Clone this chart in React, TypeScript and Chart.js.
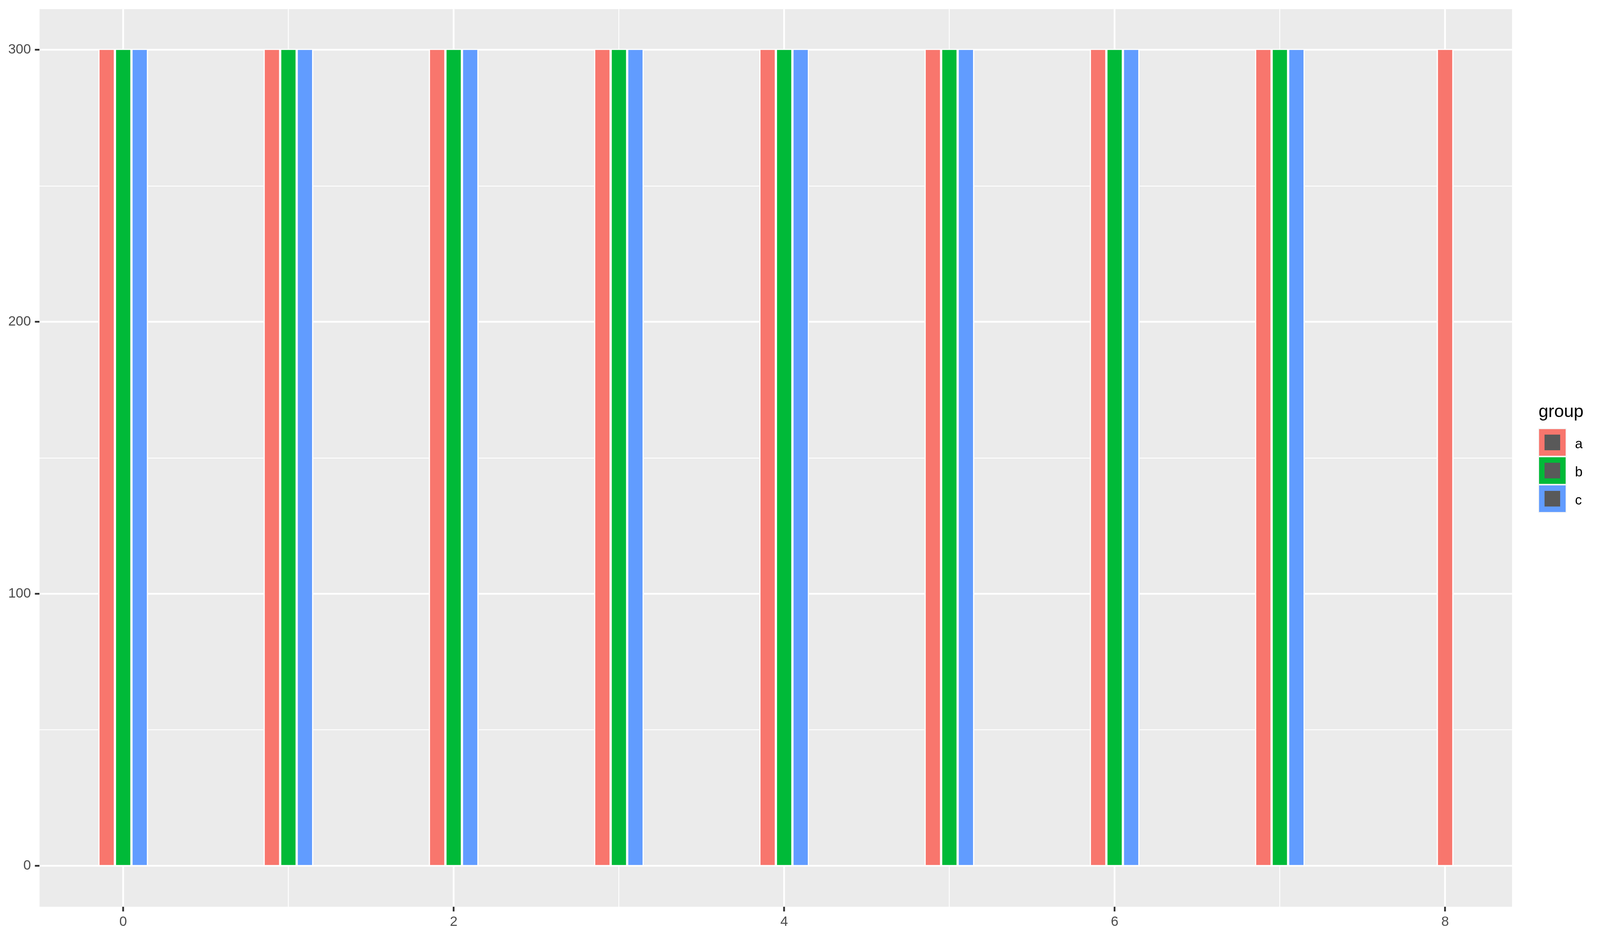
import { useEffect, useRef } from "react";
import { Chart, BarController, BarElement, LinearScale } from "chart.js";

Chart.register(BarController, BarElement, LinearScale);

// data
const groups = ["a", "b", "c"];
const groupColors = ["#F8766D", "#00BA38", "#619CFF"];
const xA = [0, 1, 2, 3, 4, 5, 6, 7, 8];
const valuesA = [300, 300, 300, 300, 300, 300, 300, 300, 300];
const xB = [0, 1, 2, 3, 4, 5, 6, 7];
const valuesB = [300, 300, 300, 300, 300, 300, 300, 300];
const xC = [0, 1, 2, 3, 4, 5, 6, 7];
const valuesC = [300, 300, 300, 300, 300, 300, 300, 300];

const xMajorTicks = [0, 2, 4, 6, 8];
const xMinorTicks = [1, 3, 5, 7];
const yMajorTicks = [0, 100, 200, 300];
const yMinorTicks = [50, 150, 250];

const FONT = "'Liberation Sans', Arial, Helvetica, sans-serif";
const W = 4165;
const H = 2400;

const panelBackground = {
  id: "panelBackground",
  beforeDraw(chart: Chart) {
    const { ctx, chartArea: a } = chart;
    ctx.save();
    ctx.fillStyle = "#EBEBEB";
    ctx.fillRect(a.left, a.top, a.right - a.left, a.bottom - a.top);
    ctx.restore();
  },
};

const toPoints = (xs: number[], ys: number[]) => xs.map((x, i) => ({ x, y: ys[i] }));

function axis(min: number, max: number, major: number[], minor: number[], padding: number, fit: (s: any) => void) {
  const isMajor = (v: any) => major.includes(Number(v));
  return {
    type: "linear" as const,
    min,
    max,
    offset: false,
    afterBuildTicks: (s: any) => {
      s.ticks = [...major, ...minor].sort((p, q) => p - q).map((value) => ({ value }));
    },
    afterFit: (s: any) => {
      // labels never sit on the panel edge, so no overflow padding
      s.paddingTop = 0;
      s.paddingBottom = 0;
      s.paddingLeft = 0;
      s.paddingRight = 0;
      fit(s);
    },
    border: { display: false },
    grid: {
      offset: false,
      color: "#FFFFFF",
      lineWidth: (c: any) => (isMajor(c.tick?.value) ? 4.5 : 2.25),
      tickLength: 12,
      tickWidth: 4.5,
      tickColor: (c: any) => (isMajor(c.tick?.value) ? "#333333" : "rgba(0,0,0,0)"),
    },
    ticks: {
      autoSkip: false,
      maxRotation: 0,
      padding,
      color: "#4D4D4D",
      font: { family: FONT, size: 35 },
      callback: (v: any) => (isMajor(v) ? String(v) : ""),
    },
  };
}

function GroupLegend({ sx }: { sx: number }) {
  return (
    <div style={{ position: "absolute", left: 0, top: 0, fontFamily: FONT, color: "#000" }}>
      <div style={{ position: "absolute", left: 4005 * sx, top: 1029, fontSize: 45, lineHeight: "46px", whiteSpace: "nowrap" }}>
        group
      </div>
      {groups.map((g, i) => {
        const top = 1096 + i * 72;
        return (
          <div key={g}>
            <div style={{ position: "absolute", left: 4004 * sx, top, width: 72, height: 72, background: "#F2F2F2" }}>
              <div style={{ position: "absolute", left: 2, top: 2, width: 68, height: 68, background: groupColors[i] }} />
              <div style={{ position: "absolute", left: 16, top: 16, width: 40, height: 40, background: "#595959" }} />
            </div>
            <div style={{ position: "absolute", left: 4100 * sx, top: top + 21, fontSize: 35, lineHeight: "35px" }}>{g}</div>
          </div>
        );
      })}
    </div>
  );
}

export default function App() {
  const ref = useRef<HTMLCanvasElement | null>(null);
  const chartRef = useRef<Chart | null>(null);
  // the browser viewport can be narrower than the reference; squeeze horizontally to fit
  const vw = Math.min(W, window.innerWidth || W);
  const sx = vw / W;

  useEffect(() => {
    if (!ref.current) return;
    chartRef.current?.destroy();
    const series = [toPoints(xA, valuesA), toPoints(xB, valuesB), toPoints(xC, valuesC)];
    chartRef.current = new Chart(ref.current, {
      type: "bar",
      data: {
        datasets: groups.map((g, i) => ({
          label: g,
          data: series[i],
          backgroundColor: groupColors[i],
          borderColor: "#FFFFFF",
          borderWidth: { left: 3.3 * sx, right: 3.3 * sx, top: 0, bottom: 0 },
          borderSkipped: false,
          barThickness: 43 * sx,
          skipNull: true,
        })),
      },
      options: {
        responsive: false,
        devicePixelRatio: 1,
        animation: false,
        events: [],
        layout: { padding: { top: 23.3, right: vw - 3936 * sx, bottom: 0, left: 0 } },
        plugins: { legend: { display: false }, tooltip: { enabled: false } },
        scales: {
          x: axis(-0.506, 8.405, xMajorTicks, xMinorTicks, 6, (s: any) => {
            s.height = H - 2320;
          }),
          y: axis(-15, 315, yMajorTicks, yMinorTicks, 10, (s: any) => {
            s.width = 103 * sx;
          }),
        },
      },
      plugins: [panelBackground],
    } as any);
    return () => chartRef.current?.destroy();
  }, [sx, vw]);

  return (
    <div style={{ position: "absolute", left: 0, top: 0, width: vw, height: H, background: "#FFFFFF", overflow: "hidden" }}>
      <canvas ref={ref} width={vw} height={H} style={{ position: "absolute", left: 0, top: 0, width: vw, height: H }} />
      <GroupLegend sx={sx} />
    </div>
  );
}
